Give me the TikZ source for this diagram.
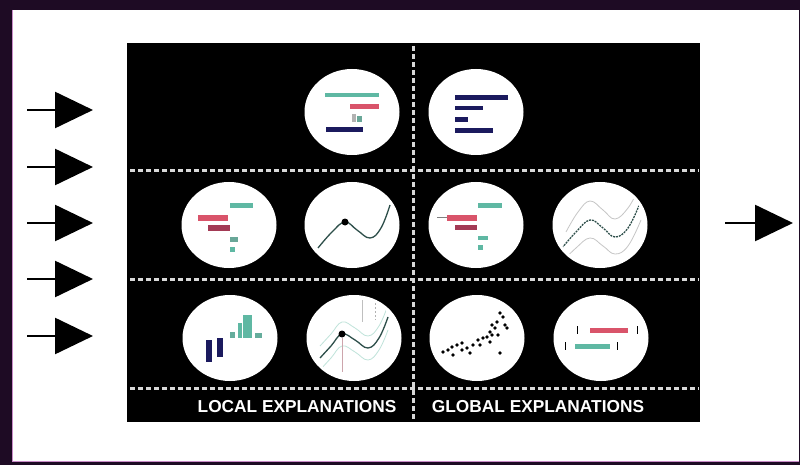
\documentclass[tikz,border=0pt]{standalone}
\usepackage{fontspec}
\setmainfont{Liberation Sans}
\usetikzlibrary{arrows.meta,shapes.geometric}
\definecolor{framec}{HTML}{1E0B24}
\definecolor{framepink}{HTML}{C98BC8}
\definecolor{tealc}{HTML}{5FB8A3}
\definecolor{redc}{HTML}{D9546A}
\definecolor{darkred}{HTML}{A33A55}
\definecolor{navyc}{HTML}{1B1A5E}
\definecolor{curvec}{HTML}{2E4F4A}
\definecolor{sepc}{HTML}{D8D8D8}
\begin{document}
\begin{tikzpicture}[x=1pt,y=-1pt,
  bubble/.style={ellipse, fill=white, draw=none, minimum width=95pt, minimum height=86pt, inner sep=0pt},
  sepline/.style={sepc, line width=3pt, dash pattern=on 5pt off 3pt},
  bigarrow/.style={line width=2.5pt, -{Triangle[length=38pt,width=36pt]}},
  lbl/.style={text=white, font=\bfseries\fontsize{17.3}{19}\selectfont, inner sep=0pt},
  curve/.style={curvec, line width=1.3pt},
  faint/.style={gray!45, line width=0.8pt},
  dot/.style={fill=black}
]
\useasboundingbox (0,0) rectangle (800,465);
% frame
\fill[framec] (0,0) rectangle (800,465);
\fill[white] (12,10) rectangle (799,462);
\draw[framepink, line width=1.2pt] (12.5,10) -- (12.5,461.5) -- (799,461.5);

% panel
\node[fill=black, minimum width=573pt, minimum height=379pt, inner sep=0pt] (panel) at (413.5,232.5) {};

% separators
\draw[sepline] (130,171) -- (699,171);
\draw[sepline] (130,279) -- (699,279);
\draw[sepline] (130,388) -- (699,388);
\draw[sepline] (413,46) -- (413,420);

% bubbles
\node[bubble] (a1) at (352,112) {};
\node[bubble] (a2) at (476,112) {};
\node[bubble] (b1) at (229,225) {};
\node[bubble] (b2) at (352,225) {};
\node[bubble] (b3) at (476,225) {};
\node[bubble] (b4) at (600,225) {};
\node[bubble] (c1) at (230,338) {};
\node[bubble] (c2) at (354,338) {};
\node[bubble] (c3) at (477,338) {};
\node[bubble] (c4) at (601,338) {};

% a1: waterfall
\fill[tealc] (325,93) rectangle (379,97);
\fill[redc] (350,104) rectangle (379,109);
\fill[gray!60] (352,114) rectangle (356,122);
\fill[tealc!70!gray] (357,116) rectangle (362,122);
\fill[navyc] (326,127) rectangle (363,132);

% a2: navy bars
\fill[navyc] (455,95) rectangle (508,100);
\fill[navyc] (455,106) rectangle (483,110);
\fill[navyc] (455,117) rectangle (468,122);
\fill[navyc] (455,128) rectangle (493,133);

% b1: local bars
\fill[tealc] (230,203) rectangle (253,208);
\fill[redc] (198,215) rectangle (228,221);
\fill[darkred] (208,225) rectangle (230,231);
\fill[tealc!70!gray] (230,237) rectangle (238,242);
\fill[tealc] (230,247) rectangle (235,252);

% b2: curve with point
\draw[curve] plot[smooth, tension=0.7] coordinates {(318,248) (332,232) (345,222) (357,230) (370,238) (381,228) (390,205)};
\fill[dot] (345,222) circle (3.5);

% b3: global bars
\draw[gray, line width=0.6pt] (437,217) -- (447,217);
\fill[tealc] (478,203) rectangle (502,208);
\fill[redc] (447,215) rectangle (477,221);
\fill[darkred] (455,225) rectangle (477,230);
\fill[tealc] (478,236) rectangle (488,240);
\fill[tealc] (478,245) rectangle (483,250);

% b4: curve with bands
\begin{scope}
\clip (600,225) ellipse [x radius=44pt, y radius=40pt];
\draw[faint] plot[smooth, tension=0.7] coordinates {(566,232) (578,212) (590,201) (603,210) (615,219) (628,208) (638,190)};
\draw[faint] plot[smooth, tension=0.7] coordinates {(562,262) (576,248) (590,238) (603,246) (615,254) (628,246) (641,220)};
\draw[curvec, line width=1.3pt, dash pattern=on 2pt off 1pt] plot[smooth, tension=0.7] coordinates {(562,248) (576,232) (590,220) (603,228) (615,237) (628,228) (640,203)};
\end{scope}

% c1: vertical bars
\fill[navyc] (206,340) rectangle (212,362);
\fill[navyc] (217,338) rectangle (223,357);
\fill[tealc!80!gray] (230,332) rectangle (235,338);
\fill[tealc] (238,323) rectangle (242,338);
\fill[tealc] (243,315) rectangle (252,338);
\fill[tealc!80!gray] (255,333) rectangle (262,338);

% c2: ICE curves
\begin{scope}
\clip (354,338) ellipse [x radius=44pt, y radius=40pt];
\draw[tealc!40, line width=0.8pt] plot[smooth, tension=0.7] coordinates {(320,346) (331,334) (342,322) (355,328) (368,336) (379,326) (388,305)};
\draw[tealc!40, line width=0.8pt] plot[smooth, tension=0.7] coordinates {(320,370) (331,358) (342,346) (355,352) (368,360) (379,350) (388,330)};
\draw[gray!50, line width=0.8pt] (362,300) -- (362,322);
\draw[gray!60, line width=0.8pt, dash pattern=on 2pt off 2pt] (375,303) -- (375,320);
\draw[redc!50!gray!60, line width=1pt] (342,338) -- (342,372);
\draw[curve] plot[smooth, tension=0.7] coordinates {(320,358) (331,346) (342,334) (355,340) (368,348) (379,338) (388,317)};
\end{scope}
\fill[dot] (342,334) circle (3.5);

% c3: scatter
\foreach \p in {(443,352),(448,350),(452,347),(453,355),(457,345),(462,343),(462,350),(467,348),(470,353),(473,345),(478,340),(480,345),(483,338),(490,342),(490,332),(492,325),(495,328),(497,322),(498,335),(500,313),(503,317),(505,325),(507,328),(500,353),(492,335),(487,337)}
  \fill[dot] \p circle (1.8);

% c4: interval bars
\fill[redc] (590,328) rectangle (628,333);
\draw[black, line width=1pt] (577,326) -- (577,334);
\draw[black, line width=1pt] (637,326) -- (637,334);
\fill[tealc] (575,344) rectangle (610,349);
\draw[black, line width=1pt] (565,342) -- (565,350);
\draw[black, line width=1pt] (617,342) -- (617,350);

% labels
\node[lbl] (loc) at (297,407) {LOCAL EXPLANATIONS};
\node[lbl] (glob) at (538,407) {GLOBAL EXPLANATIONS};

% arrows
\foreach \i/\yy in {1/110,2/167,3/223,4/279,5/336} {
  \coordinate (in\i s) at (27,\yy);
  \coordinate (in\i e) at (93,\yy);
  \draw[bigarrow] (in\i s) -- (in\i e);
}
\coordinate (outs) at (725,223);
\coordinate (oute) at (793,223);
\draw[bigarrow] (outs) -- (oute);
\end{tikzpicture}
\end{document}
